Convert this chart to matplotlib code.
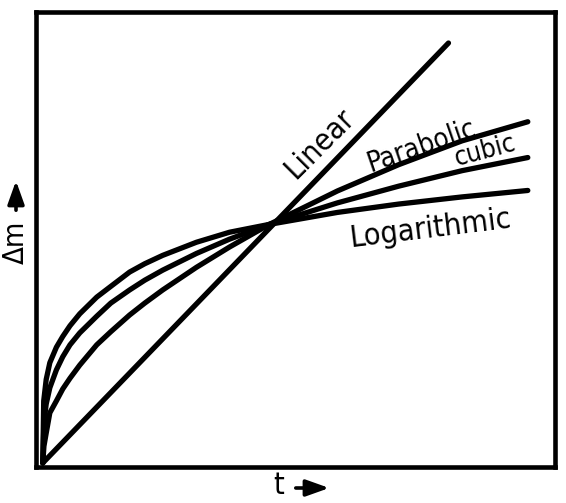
import matplotlib
matplotlib.use("Agg")
import matplotlib.pyplot as plt
from matplotlib.patches import FancyArrowPatch

# ---- data (intersection of curves at t=10, dm=10) ----
t_lin = [0, 17.9]
m_lin = [0, 17.6]

t_par = [0, 0.05, 0.15, 0.31, 0.6, 0.88, 1.2, 1.63, 2.38, 3.0, 3.83, 4.5, 5.29, 6.78, 8.24, 10.0, 13.0, 15.7, 18.5, 21.4]
m_par = [0, 0.7, 1.25, 2.1, 2.6, 3.1, 3.55, 4.1, 4.95, 5.5, 6.2, 6.7, 7.25, 8.2, 9.05, 10.0, 11.4, 12.5, 13.5, 14.3]

t_cub = [0, 0.05, 0.15, 0.31, 0.6, 0.88, 1.2, 1.63, 2.38, 3.0, 3.83, 4.5, 5.29, 6.78, 8.24, 10.0, 13.0, 15.7, 18.5, 21.4]
m_cub = [0, 1.7, 2.47, 3.15, 3.9, 4.45, 4.95, 5.45, 6.15, 6.7, 7.25, 7.66, 8.08, 8.78, 9.38, 10.0, 10.9, 11.6, 12.25, 12.8]

t_log = [0, 0.04, 0.15, 0.31, 0.6, 0.88, 1.2, 1.63, 2.38, 3.0, 3.83, 4.5, 5.29, 6.78, 8.24, 10.0, 13.0, 15.7, 18.5, 21.4]
m_log = [0, 2.6, 3.5, 4.2, 4.85, 5.3, 5.75, 6.25, 6.95, 7.4, 8.0, 8.35, 8.7, 9.25, 9.67, 10.0, 10.5, 10.85, 11.15, 11.42]

labels = ["Linear", "Parabolic", "cubic", "Logarithmic"]
xlabel = "t"
ylabel = "Δm"

FONT = ["DejaVu Sans"]
STRETCH = "condensed"

W, H = 566, 503
fig = plt.figure(figsize=(W / 100, H / 100), dpi=100)
ax = fig.add_axes([36 / W, (H - 467) / H, (555 - 36) / W, (467 - 12) / H])

lw = 3.8
for tx, my in [(t_lin, m_lin), (t_par, m_par), (t_cub, m_cub), (t_log, m_log)]:
    ax.plot(tx, my, color="black", lw=lw, solid_capstyle="round", solid_joinstyle="round")

ax.set_xlim(-0.3, 22.6)
ax.set_ylim(-0.17, 18.9)
ax.set_xticks([])
ax.set_yticks([])
for s in ax.spines.values():
    s.set_linewidth(3.3)
    s.set_color("black")

kw = dict(family=FONT, fontstretch=STRETCH, ha="center", va="center", rotation_mode="anchor")
ax.text(12.2, 13.4, labels[0], rotation=45, fontsize=22, **kw)
ax.text(16.7, 13.3, labels[1], rotation=19, fontsize=20, **kw)
ax.text(19.5, 13.05, labels[2], rotation=15, fontsize=19, **kw)
ax.text(17.1, 9.8, labels[3], rotation=7, fontsize=22, **kw)

# axis labels with arrows
fig.text(279 / W, 1 - 486 / H, xlabel, fontsize=22, family=FONT, fontstretch=STRETCH,
         ha="center", va="center")
fig.text(16 / W, 1 - 242 / H, ylabel, fontsize=21, family=FONT, fontstretch=STRETCH,
         ha="center", va="center", rotation=90)
fig.add_artist(FancyArrowPatch(
    (293, H - 488), (332, H - 488), transform=None,
    arrowstyle="-|>,head_length=0.7,head_width=0.25", lw=2.6, color="black", mutation_scale=20))
fig.add_artist(FancyArrowPatch(
    (16, H - 213), (16, H - 178), transform=None,
    arrowstyle="-|>,head_length=0.7,head_width=0.25", lw=2.6, color="black", mutation_scale=20))

fig.savefig("out.png", dpi=100)
